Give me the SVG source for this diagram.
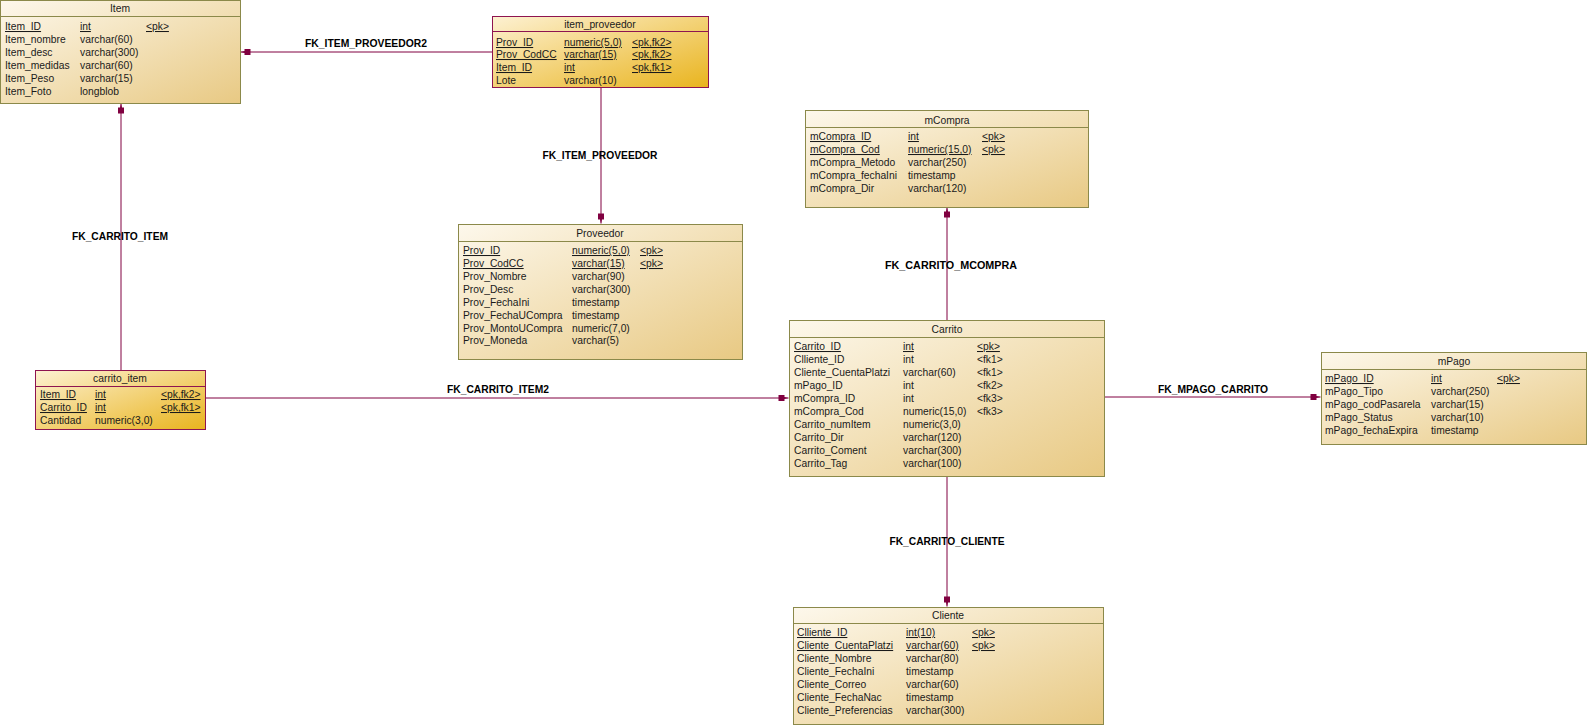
<svg xmlns="http://www.w3.org/2000/svg" width="1589" height="726" viewBox="0 0 1589 726">
<defs>
  <linearGradient id="gNorm" x1="0" y1="0" x2="1" y2="1">
    <stop offset="0" stop-color="#fdf8ec"/>
    <stop offset="1" stop-color="#e8c983"/>
  </linearGradient>
  <linearGradient id="gSel" x1="0" y1="0" x2="1" y2="1">
    <stop offset="0" stop-color="#fdf1d2"/>
    <stop offset="1" stop-color="#e9b41e"/>
  </linearGradient>
  <marker id="fk" markerUnits="userSpaceOnUse" markerWidth="14" markerHeight="10" refX="0" refY="0" viewBox="-12 -5 14 10" orient="auto" overflow="visible">
    <path d="M0,0 L-4,-1 L-4,-3 L-10,-3 L-10,3 L-4,3 L-4,1 Z" fill="#800040"/>
  </marker>
</defs>
<style>
  .box { fill: url(#gNorm); stroke: #8b894a; stroke-width: 1; }
  .sel { fill: url(#gSel); stroke: #8e1450; stroke-width: 1; }
  .hd { stroke: #8b894a; stroke-width: 1; }
  .hdsel { stroke: #8e1450; stroke-width: 1; }
  text { font-family: "Liberation Sans", Arial, sans-serif; font-size: 10.3px; fill: #1a1a1a; }
  .title { text-anchor: middle; }
  .u { text-decoration: underline; }
  .conn { stroke: #800040; stroke-width: 1; fill: none; marker-end: url(#fk); }
  .lbl { font-weight: bold; font-size: 10px; fill: #000; text-anchor: middle; }
</style>

<!-- relationship lines -->
<g id="connectors">
  <path class="conn" d="M492,52 H240.5"/>
  <path class="conn" d="M601,87 V223.5"/>
  <path class="conn" d="M121,370 V103.5"/>
  <path class="conn" d="M206,398 H788.5"/>
  <path class="conn" d="M947,320 V207.5"/>
  <path class="conn" d="M1104,397 H1320.5"/>
  <path class="conn" d="M947,476 V606.5"/>
  <text class="lbl" x="366" y="47" textLength="122" lengthAdjust="spacingAndGlyphs">FK_ITEM_PROVEEDOR2</text>
  <text class="lbl" x="600" y="159" textLength="115" lengthAdjust="spacingAndGlyphs">FK_ITEM_PROVEEDOR</text>
  <text class="lbl" x="120" y="240" textLength="96" lengthAdjust="spacingAndGlyphs">FK_CARRITO_ITEM</text>
  <text class="lbl" x="951" y="269" textLength="132" lengthAdjust="spacingAndGlyphs">FK_CARRITO_MCOMPRA</text>
  <text class="lbl" x="498" y="393" textLength="102" lengthAdjust="spacingAndGlyphs">FK_CARRITO_ITEM2</text>
  <text class="lbl" x="1213" y="393" textLength="110" lengthAdjust="spacingAndGlyphs">FK_MPAGO_CARRITO</text>
  <text class="lbl" x="947" y="545" textLength="115" lengthAdjust="spacingAndGlyphs">FK_CARRITO_CLIENTE</text>
</g>

<!-- Item -->
<g id="Item">
  <rect class="box" x="0.5" y="0.5" width="240" height="103"/>
  <line class="hd" x1="0.5" y1="16.5" x2="240.5" y2="16.5"/>
  <text class="title" x="120" y="12">Item</text>
  <text x="5" y="30" class="u">Item_ID</text><text x="80" y="30" class="u">int</text><text x="146" y="30" class="u">&lt;pk&gt;</text>
  <text x="5" y="43">Item_nombre</text><text x="80" y="43">varchar(60)</text>
  <text x="5" y="56">Item_desc</text><text x="80" y="56">varchar(300)</text>
  <text x="5" y="69">Item_medidas</text><text x="80" y="69">varchar(60)</text>
  <text x="5" y="82">Item_Peso</text><text x="80" y="82">varchar(15)</text>
  <text x="5" y="95">Item_Foto</text><text x="80" y="95">longblob</text>
</g>

<!-- item_proveedor -->
<g id="item_proveedor">
  <rect class="sel" x="492.5" y="16.5" width="216" height="71"/>
  <line class="hdsel" x1="492.5" y1="31.5" x2="708.5" y2="31.5"/>
  <text class="title" x="600" y="28">item_proveedor</text>
  <text x="496" y="46" class="u">Prov_ID</text><text x="564" y="46" class="u">numeric(5,0)</text><text x="632" y="46" class="u">&lt;pk,fk2&gt;</text>
  <text x="496" y="58" class="u">Prov_CodCC</text><text x="564" y="58" class="u">varchar(15)</text><text x="632" y="58" class="u">&lt;pk,fk2&gt;</text>
  <text x="496" y="71" class="u">Item_ID</text><text x="564" y="71" class="u">int</text><text x="632" y="71" class="u">&lt;pk,fk1&gt;</text>
  <text x="496" y="84">Lote</text><text x="564" y="84">varchar(10)</text>
</g>

<!-- Proveedor -->
<g id="Proveedor">
  <rect class="box" x="458.5" y="224.5" width="284" height="135"/>
  <line class="hd" x1="458.5" y1="241.5" x2="742.5" y2="241.5"/>
  <text class="title" x="600" y="237">Proveedor</text>
  <text x="463" y="254" class="u">Prov_ID</text><text x="572" y="254" class="u">numeric(5,0)</text><text x="640" y="254" class="u">&lt;pk&gt;</text>
  <text x="463" y="267" class="u">Prov_CodCC</text><text x="572" y="267" class="u">varchar(15)</text><text x="640" y="267" class="u">&lt;pk&gt;</text>
  <text x="463" y="280">Prov_Nombre</text><text x="572" y="280">varchar(90)</text>
  <text x="463" y="293">Prov_Desc</text><text x="572" y="293">varchar(300)</text>
  <text x="463" y="306">Prov_FechaIni</text><text x="572" y="306">timestamp</text>
  <text x="463" y="319">Prov_FechaUCompra</text><text x="572" y="319">timestamp</text>
  <text x="463" y="332">Prov_MontoUCompra</text><text x="572" y="332">numeric(7,0)</text>
  <text x="463" y="344">Prov_Moneda</text><text x="572" y="344">varchar(5)</text>
</g>

<!-- mCompra -->
<g id="mCompra">
  <rect class="box" x="805.5" y="110.5" width="283" height="97"/>
  <line class="hd" x1="805.5" y1="127.5" x2="1088.5" y2="127.5"/>
  <text class="title" x="947" y="124">mCompra</text>
  <text x="810" y="140" class="u">mCompra_ID</text><text x="908" y="140" class="u">int</text><text x="982" y="140" class="u">&lt;pk&gt;</text>
  <text x="810" y="153" class="u">mCompra_Cod</text><text x="908" y="153" class="u">numeric(15,0)</text><text x="982" y="153" class="u">&lt;pk&gt;</text>
  <text x="810" y="166">mCompra_Metodo</text><text x="908" y="166">varchar(250)</text>
  <text x="810" y="179">mCompra_fechaIni</text><text x="908" y="179">timestamp</text>
  <text x="810" y="192">mCompra_Dir</text><text x="908" y="192">varchar(120)</text>
</g>

<!-- Carrito -->
<g id="Carrito">
  <rect class="box" x="789.5" y="320.5" width="315" height="156"/>
  <line class="hd" x1="789.5" y1="337.5" x2="1104.5" y2="337.5"/>
  <text class="title" x="947" y="333">Carrito</text>
  <text x="794" y="350" class="u">Carrito_ID</text><text x="903" y="350" class="u">int</text><text x="977" y="350" class="u">&lt;pk&gt;</text>
  <text x="794" y="363">Clliente_ID</text><text x="903" y="363">int</text><text x="977" y="363">&lt;fk1&gt;</text>
  <text x="794" y="376">Cliente_CuentaPlatzi</text><text x="903" y="376">varchar(60)</text><text x="977" y="376">&lt;fk1&gt;</text>
  <text x="794" y="389">mPago_ID</text><text x="903" y="389">int</text><text x="977" y="389">&lt;fk2&gt;</text>
  <text x="794" y="402">mCompra_ID</text><text x="903" y="402">int</text><text x="977" y="402">&lt;fk3&gt;</text>
  <text x="794" y="415">mCompra_Cod</text><text x="903" y="415">numeric(15,0)</text><text x="977" y="415">&lt;fk3&gt;</text>
  <text x="794" y="428">Carrito_numItem</text><text x="903" y="428">numeric(3,0)</text>
  <text x="794" y="441">Carrito_Dir</text><text x="903" y="441">varchar(120)</text>
  <text x="794" y="454">Carrito_Coment</text><text x="903" y="454">varchar(300)</text>
  <text x="794" y="467">Carrito_Tag</text><text x="903" y="467">varchar(100)</text>
</g>

<!-- mPago -->
<g id="mPago">
  <rect class="box" x="1321.5" y="352.5" width="265" height="92"/>
  <line class="hd" x1="1321.5" y1="369.5" x2="1586.5" y2="369.5"/>
  <text class="title" x="1454" y="365">mPago</text>
  <text x="1325" y="382" class="u">mPago_ID</text><text x="1431" y="382" class="u">int</text><text x="1497" y="382" class="u">&lt;pk&gt;</text>
  <text x="1325" y="395">mPago_Tipo</text><text x="1431" y="395">varchar(250)</text>
  <text x="1325" y="408">mPago_codPasarela</text><text x="1431" y="408">varchar(15)</text>
  <text x="1325" y="421">mPago_Status</text><text x="1431" y="421">varchar(10)</text>
  <text x="1325" y="434">mPago_fechaExpira</text><text x="1431" y="434">timestamp</text>
</g>

<!-- Cliente -->
<g id="Cliente">
  <rect class="box" x="793.5" y="607.5" width="310" height="117"/>
  <line class="hd" x1="793.5" y1="623.5" x2="1103.5" y2="623.5"/>
  <text class="title" x="948" y="619">Cliente</text>
  <text x="797" y="636" class="u">Clliente_ID</text><text x="906" y="636" class="u">int(10)</text><text x="972" y="636" class="u">&lt;pk&gt;</text>
  <text x="797" y="649" class="u">Cliente_CuentaPlatzi</text><text x="906" y="649" class="u">varchar(60)</text><text x="972" y="649" class="u">&lt;pk&gt;</text>
  <text x="797" y="662">Cliente_Nombre</text><text x="906" y="662">varchar(80)</text>
  <text x="797" y="675">Cliente_FechaIni</text><text x="906" y="675">timestamp</text>
  <text x="797" y="688">Cliente_Correo</text><text x="906" y="688">varchar(60)</text>
  <text x="797" y="701">Cliente_FechaNac</text><text x="906" y="701">timestamp</text>
  <text x="797" y="714">Cliente_Preferencias</text><text x="906" y="714">varchar(300)</text>
</g>

<!-- carrito_item -->
<g id="carrito_item">
  <rect class="sel" x="35.5" y="370.5" width="170" height="59"/>
  <line class="hdsel" x1="35.5" y1="386.5" x2="205.5" y2="386.5"/>
  <text class="title" x="120" y="382">carrito_item</text>
  <text x="40" y="398" class="u">Item_ID</text><text x="95" y="398" class="u">int</text><text x="161" y="398" class="u">&lt;pk,fk2&gt;</text>
  <text x="40" y="411" class="u">Carrito_ID</text><text x="95" y="411" class="u">int</text><text x="161" y="411" class="u">&lt;pk,fk1&gt;</text>
  <text x="40" y="424">Cantidad</text><text x="95" y="424">numeric(3,0)</text>
</g>
</svg>
